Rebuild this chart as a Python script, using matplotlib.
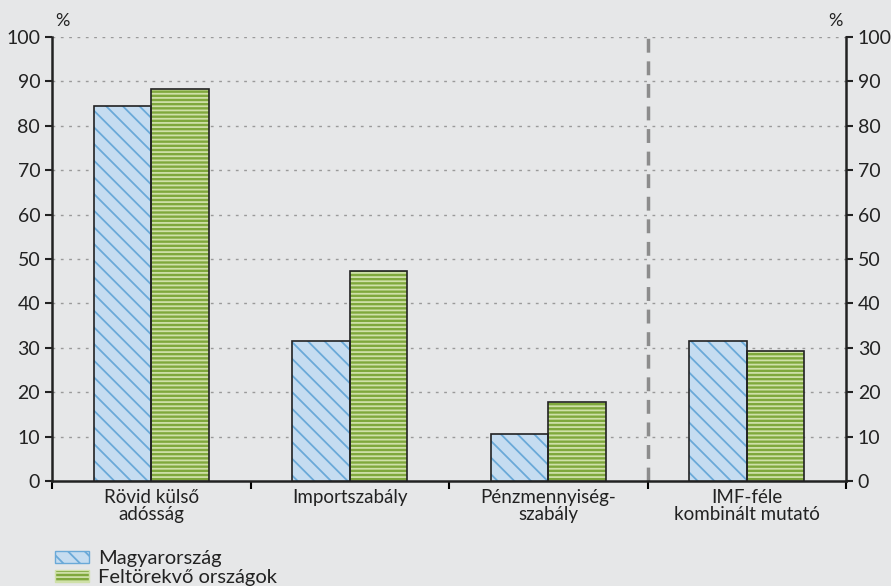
import matplotlib.pyplot as plt
from matplotlib.patches import Patch
import numpy as np

plt.rcParams['font.family'] = ['Lato', 'DejaVu Sans']
plt.rcParams['hatch.linewidth'] = 1.3

categories = ['Rövid külső\nadósság', 'Importszabály', 'Pénzmennyiség-\nszabály',
              'IMF-féle\nkombinált mutató']
hungary = [84.5, 31.5, 10.6, 31.5]
emerging = [88.3, 47.3, 17.8, 29.4]
series_names = ['Magyarország', 'Feltörekvő országok']
yticks = list(range(0, 101, 10))

bg = '#e6e7e8'
blue_face, blue_hatch = '#c5dcf0', '#6aa9d8'
green_face, green_hatch = '#7fa83c', '#cfe0a8'
txt = '#222222'

fig = plt.figure(figsize=(8.91, 5.86), dpi=100, facecolor=bg)
ax = fig.add_axes([0.0584, 0.179, 0.8911, 0.758])
ax.set_facecolor(bg)

x = np.arange(len(categories))
w = 0.29

def hatched_bars(xs, vals, face, hcolor, hatch):
    ax.bar(xs, vals, w, color=face, edgecolor=hcolor, hatch=hatch, linewidth=0, zorder=3)
    ax.bar(xs, vals, w, fill=False, edgecolor=txt, linewidth=1.2, zorder=4)

hatched_bars(x - w / 2, hungary, blue_face, blue_hatch, '\\\\')
hatched_bars(x + w / 2, emerging, green_face, green_hatch, '----')

ax.set_xlim(-0.5, len(categories) - 0.5)
ax.set_ylim(0, 100)
ax.set_yticks(yticks)
for y in yticks[1:]:
    ax.axhline(y, color='#9a9a9a', linestyle=(0, (2, 4)), linewidth=1, zorder=1)

# separator before the IMF indicator
ax.axvline(2.5, color='#8c8c8c', linestyle=(0, (4, 2.5)), linewidth=2.5, zorder=2)

ax.spines['top'].set_visible(False)
for s in ['left', 'right', 'bottom']:
    ax.spines[s].set_linewidth(1.8)
    ax.spines[s].set_color(txt)

ax.set_xticks(np.arange(-0.5, len(categories), 1.0))
ax.set_xticklabels([])
ax.set_xticks(x, minor=True)
ax.set_xticklabels(categories, minor=True, fontsize=13.5, color=txt, linespacing=1.0)
ax.tick_params(axis='x', which='minor', length=0, pad=6)
ax.tick_params(axis='x', which='major', length=6, width=1.5, direction='out')
ax.tick_params(axis='y', labelsize=14, length=5, width=1.5, direction='out', colors=txt)

ax2 = ax.twinx()
ax2.set_ylim(0, 100)
ax2.set_yticks(yticks)
ax2.tick_params(axis='y', labelsize=14, length=5, width=1.5, direction='out', colors=txt)
for s in ['top', 'left', 'bottom', 'right']:
    ax2.spines[s].set_visible(False)

fig.text(0.07, 0.965, '%', fontsize=13, color=txt, ha='center', va='center')
fig.text(0.938, 0.965, '%', fontsize=13, color=txt, ha='center', va='center')

handles = [
    Patch(facecolor=blue_face, edgecolor=blue_hatch, hatch='\\\\'),
    Patch(facecolor=green_face, edgecolor=green_hatch, hatch='----'),
]
leg = fig.legend(handles, series_names, loc='lower left', bbox_to_anchor=(0.046, -0.024),
                 frameon=False, fontsize=14.5, handlelength=1.7, handleheight=0.55,
                 labelspacing=0.1, handletextpad=0.45, borderpad=0.2)
for t in leg.get_texts():
    t.set_color(txt)

fig.savefig('out.png', dpi=100, facecolor=bg)
